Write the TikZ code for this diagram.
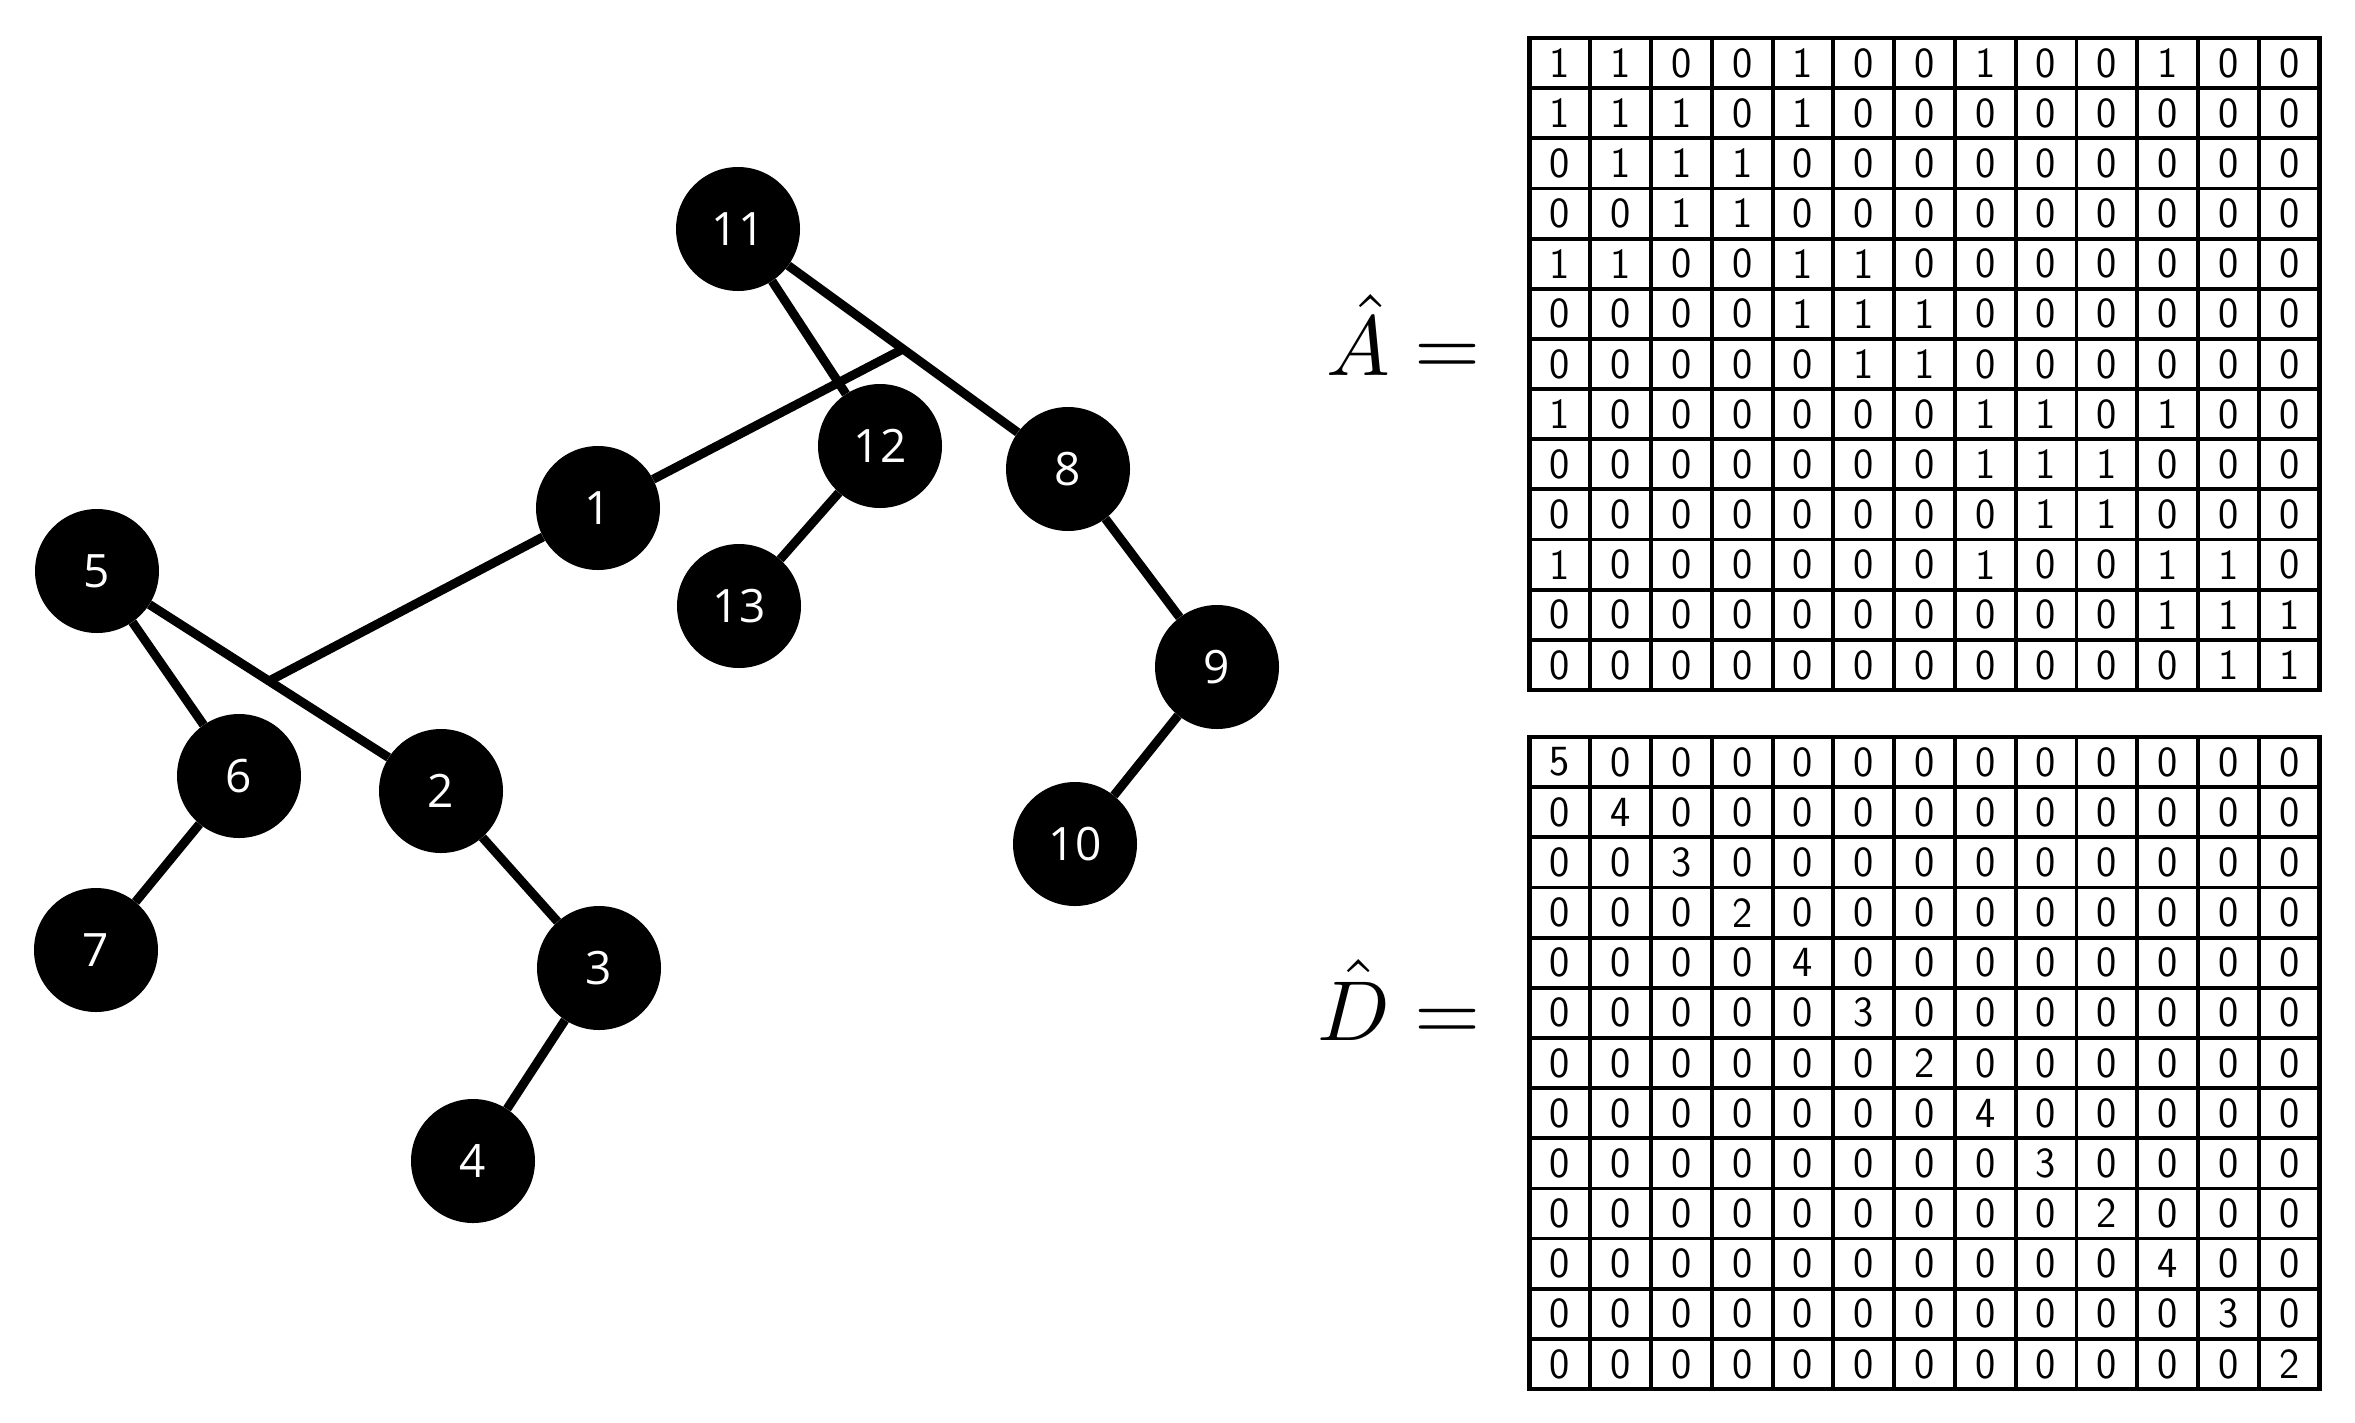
\documentclass[tikz,border=0pt]{standalone}
\usepackage{fontspec}
\newfontfamily\nodefont{Open Sans}
\usetikzlibrary{calc}
\begin{document}
\begin{tikzpicture}[x=1pt,y=-1pt,
  vtx/.style={circle, fill=black, minimum size=124pt, inner sep=0pt, text=white, font=\nodefont\fontsize{46}{46}\selectfont},
  edge/.style={line width=9pt},
  cell/.style={inner sep=0pt, font=\sffamily\fontsize{43}{43}\selectfont},
  gridline/.style={line width=3.8pt},
  frame/.style={line width=4.5pt},
  lbl/.style={inner sep=0pt, anchor=base east, scale=8.5, font=\fontsize{10}{10}\selectfont}]
\useasboundingbox (0,0) rectangle (2355,1422);

% graph nodes
\node[vtx] (n11) at (738,229) {11};
\node[vtx] (n12) at (880,446) {12};
\node[vtx] (n8)  at (1068,469) {8};
\node[vtx] (n1)  at (598,508) {1};
\node[vtx] (n5)  at (97,571) {5};
\node[vtx] (n13) at (739,606) {13};
\node[vtx] (n9)  at (1217,667) {9};
\node[vtx] (n6)  at (239,776) {6};
\node[vtx] (n2)  at (441,791) {2};
\node[vtx] (n10) at (1075,844) {10};
\node[vtx] (n7)  at (96,950) {7};
\node[vtx] (n3)  at (599,968) {3};
\node[vtx] (n4)  at (473,1161) {4};

\coordinate (j1) at ($(n11)!0.5!(n8)$);
\coordinate (j2) at ($(n5)!0.5!(n2)$);

\draw[edge] (n11) -- (n12);
\draw[edge] (n11) -- (n8);
\draw[edge] (n1) -- (j1);
\draw[edge] (n1) -- (j2);
\draw[edge] (n5) -- (n6);
\draw[edge] (n5) -- (n2);
\draw[edge] (n12) -- (n13);
\draw[edge] (n8) -- (n9);
\draw[edge] (n9) -- (n10);
\draw[edge] (n6) -- (n7);
\draw[edge] (n2) -- (n3);
\draw[edge] (n3) -- (n4);

% labels
\node[lbl] (la) at (1482,375) {$\hat{A} =$};
\node[lbl] (ld) at (1482,1040) {$\hat{D} =$};

% matrix A
\foreach \row [count=\r] in {
 {1,1,0,0,1,0,0,1,0,0,1,0,0},
 {1,1,1,0,1,0,0,0,0,0,0,0,0},
 {0,1,1,1,0,0,0,0,0,0,0,0,0},
 {0,0,1,1,0,0,0,0,0,0,0,0,0},
 {1,1,0,0,1,1,0,0,0,0,0,0,0},
 {0,0,0,0,1,1,1,0,0,0,0,0,0},
 {0,0,0,0,0,1,1,0,0,0,0,0,0},
 {1,0,0,0,0,0,0,1,1,0,1,0,0},
 {0,0,0,0,0,0,0,1,1,1,0,0,0},
 {0,0,0,0,0,0,0,0,1,1,0,0,0},
 {1,0,0,0,0,0,0,1,0,0,1,1,0},
 {0,0,0,0,0,0,0,0,0,0,1,1,1},
 {0,0,0,0,0,0,0,0,0,0,0,1,1}}{
  \foreach \v [count=\c] in \row {
    \node[cell] (A-\r-\c) at ({1529.5+(\c-0.5)*60.769},{38+(\r-0.5)*50.154}) {\v};
  }
}
% matrix D
\foreach \row [count=\r] in {
 {5,0,0,0,0,0,0,0,0,0,0,0,0},
 {0,4,0,0,0,0,0,0,0,0,0,0,0},
 {0,0,3,0,0,0,0,0,0,0,0,0,0},
 {0,0,0,2,0,0,0,0,0,0,0,0,0},
 {0,0,0,0,4,0,0,0,0,0,0,0,0},
 {0,0,0,0,0,3,0,0,0,0,0,0,0},
 {0,0,0,0,0,0,2,0,0,0,0,0,0},
 {0,0,0,0,0,0,0,4,0,0,0,0,0},
 {0,0,0,0,0,0,0,0,3,0,0,0,0},
 {0,0,0,0,0,0,0,0,0,2,0,0,0},
 {0,0,0,0,0,0,0,0,0,0,4,0,0},
 {0,0,0,0,0,0,0,0,0,0,0,3,0},
 {0,0,0,0,0,0,0,0,0,0,0,0,2}}{
  \foreach \v [count=\c] in \row {
    \node[cell] (D-\r-\c) at ({1529.5+(\c-0.5)*60.769},{737+(\r-0.5)*50.154}) {\v};
  }
}

% grid lines
\foreach \yo in {38,737}{
  \foreach \i in {1,...,12}{
    \draw[gridline] ({1529.5+\i*60.769},\yo) -- ++(0,652);
    \draw[gridline] (1529.5,{\yo+\i*50.154}) -- ++(790,0);
  }
  \draw[frame] (1529.5,\yo) rectangle ++(790,652);
}
\end{tikzpicture}
\end{document}
